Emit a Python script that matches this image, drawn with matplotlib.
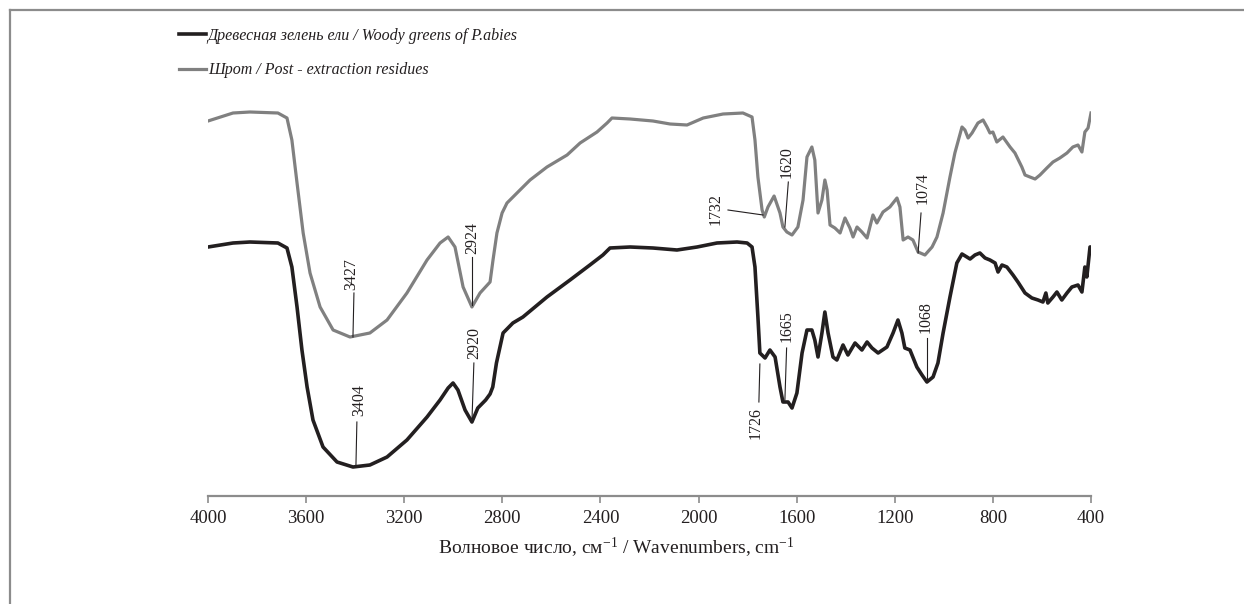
import matplotlib
matplotlib.use("Agg")
import matplotlib.pyplot as plt
from matplotlib.lines import Line2D

plt.rcParams['font.family'] = ['Liberation Serif', 'DejaVu Serif']
plt.rcParams['mathtext.fontset'] = 'custom'
plt.rcParams['mathtext.rm'] = 'Liberation Serif'
plt.rcParams['mathtext.it'] = 'Liberation Serif:italic'

# ---------------- data (wavenumber, arbitrary transmittance units) ----------------
wn_greens = [4000, 3898, 3829, 3715, 3678, 3658, 3637, 3617, 3596, 3572, 3531, 3474, 3409,
             3340, 3270, 3189, 3107, 3054, 3021, 3001, 2981, 2952, 2924, 2900, 2868, 2850,
             2839, 2824, 2797, 2757, 2716, 2618, 2524, 2443, 2390, 2361, 2279, 2186, 2088,
             2006, 1925, 1843, 1802, 1782, 1770, 1758, 1750, 1729, 1709, 1688, 1668, 1656,
             1635, 1619, 1599, 1578, 1558, 1538, 1526, 1513, 1497, 1485, 1472, 1452, 1436,
             1411, 1391, 1362, 1334, 1313, 1293, 1268, 1232, 1207, 1187, 1171, 1159, 1138,
             1110, 1089, 1069, 1044, 1024, 1003, 975, 947, 926, 906, 893, 873, 853, 832, 812,
             791, 779, 763, 743, 718, 698, 669, 641, 616, 596, 584, 576, 555, 539, 519, 498,
             478, 453, 437, 425, 417, 404, 400]
t_greens = [249, 253, 254, 253, 248, 229, 189, 146, 109, 76, 49, 34, 29,
            31, 39, 56, 79, 96, 108, 113, 106, 86, 74, 88, 96, 102,
            109, 133, 163, 173, 179, 199, 216, 231, 241, 248, 249, 248, 246,
            249, 253, 254, 253, 249, 229, 179, 143, 138, 146, 139, 109, 94,
            94, 88, 103, 143, 166, 166, 156, 139, 163, 184, 163, 139, 136,
            151, 141, 153, 146, 154, 148, 143, 149, 163, 176, 163, 148, 146,
            129, 121, 114, 119, 133, 163, 199, 233, 242, 239, 237, 241, 243, 238, 236,
            233, 224, 231, 229, 221, 214, 203, 198, 196, 194, 203, 193, 199, 204, 196, 203,
            209, 211, 204, 229, 219, 249, 249]

wn_residue = [4000, 3898, 3829, 3715, 3678, 3658, 3637, 3612, 3584, 3543, 3490, 3421, 3340,
              3270, 3189, 3107, 3054, 3021, 2993, 2960, 2924, 2891, 2850, 2838, 2822, 2801,
              2781, 2728, 2687, 2618, 2536, 2483, 2414, 2373, 2353, 2279, 2186, 2116, 2047,
              1981, 1900, 1819, 1782, 1770, 1758, 1741, 1732, 1717, 1692, 1668, 1656, 1640,
              1619, 1595, 1574, 1558, 1538, 1526, 1513, 1497, 1485, 1476, 1464, 1444, 1423,
              1403, 1383, 1370, 1354, 1334, 1313, 1289, 1273, 1248, 1220, 1191, 1179, 1166,
              1146, 1126, 1105, 1077, 1048, 1028, 1003, 975, 955, 926, 914, 901, 885, 861,
              840, 824, 812, 800, 784, 759, 730, 710, 682, 669, 649, 628, 608, 580, 555,
              527, 498, 474, 453, 437, 425, 412, 400]
t_residue = [375, 383, 384, 383, 378, 356, 313, 263, 223, 189, 166, 159, 163,
             176, 203, 236, 253, 259, 249, 209, 189, 203, 214, 236, 263, 283,
             293, 306, 316, 329, 341, 353, 364, 373, 378, 377, 375, 372, 371,
             378, 382, 383, 379, 356, 319, 286, 279, 289, 300, 283, 269, 264,
             261, 269, 296, 339, 349, 336, 283, 296, 316, 306, 271, 268, 263,
             278, 268, 259, 269, 264, 258, 281, 273, 284, 289, 298, 289, 256,
             259, 256, 244, 241, 249, 259, 283, 319, 343, 369, 366, 358, 363, 373,
             376, 369, 363, 364, 354, 359, 349, 343, 329, 321, 319, 317, 321, 328, 334,
             338, 343, 349, 351, 344, 364, 368, 383]

# peak labels: (label, line x1, line y1, line x2, line y2, text x, text y, va)
peaks_residue = [("3427", 3405, 203, 3409, 159, 3415, 206, 'bottom'),
                 ("2924", 2925, 239, 2925, 191, 2921, 242, 'bottom'),
                 ("1732", 1880, 286, 1737, 281, 1930, 287, 'center'),
                 ("1620", 1634, 314, 1648, 269, 1641, 318, 'bottom'),
                 ("1074", 1093, 283, 1105, 243, 1085, 292, 'bottom')]
peaks_greens = [("3404", 3393, 74, 3397, 29, 3384, 80, 'bottom'),
                ("2920", 2916, 133, 2924, 74, 2916, 137, 'bottom'),
                ("1665", 1641, 148, 1648, 96, 1641, 154, 'bottom'),
                ("1068", 1069, 158, 1069, 114, 1073, 163, 'bottom'),
                ("1726", 1750, 132, 1754, 94, 1766, 89, 'top')]

xticks = [4000, 3600, 3200, 2800, 2400, 2000, 1600, 1200, 800, 400]
label_greens = "Древесная зелень ели / Woody greens of P.abies"
label_residue = "Шрот / Post - extraction residues"
xlabel = "Волновое число, см$^{-1}$ / Wavenumbers, cm$^{-1}$"

# ---------------- figure ----------------
W, H = 1244, 604
fig = plt.figure(figsize=(W / 100, H / 100), dpi=100)
ax = fig.add_axes([208 / W, (H - 496) / H, (1091 - 208) / W, (496 - 10) / H])

c_black = '#231f20'
c_gray = '#808080'
ax.plot(wn_greens, t_greens, color=c_black, lw=2.6, label=label_greens, solid_joinstyle='round')
ax.plot(wn_residue, t_residue, color=c_gray, lw=2.3, label=label_residue, solid_joinstyle='round')

for lab, x1, y1, x2, y2, tx, ty, va in peaks_residue + peaks_greens:
    ax.plot([x1, x2], [y1, y2], color='#231f20', lw=0.8)
    ax.text(tx, ty, lab, rotation=90, ha='center', va=va, fontsize=11.5, color='#231f20')

ax.set_xlim(4000, 400)
ax.set_ylim(0, 486)
ax.set_xticks(xticks)
ax.set_xticklabels([str(t) for t in xticks], fontsize=13.5)
ax.set_yticks([])
for s in ['top', 'right', 'left']:
    ax.spines[s].set_visible(False)
ax.spines['bottom'].set_color('#8c8c8c')
ax.spines['bottom'].set_linewidth(1.6)
ax.tick_params(axis='x', direction='out', length=5, width=1.2, color='#8c8c8c', pad=5,
               labelcolor='#231f20')
ax.set_xlabel(xlabel, fontsize=14, color='#231f20')
ax.xaxis.set_label_coords((616 - 208) / 883, -(548 - 496) / 486)
ax.xaxis.label.set_va('center')

leg = ax.legend(loc='upper left', bbox_to_anchor=(179 / W, 1 - 28 / H),
                bbox_transform=fig.transFigure, frameon=False, handlelength=1.7,
                handletextpad=0.1, labelspacing=1.15, borderpad=0, borderaxespad=0,
                prop={'family': 'Liberation Serif', 'style': 'italic', 'size': 11.5})
for t in leg.get_texts():
    t.set_color('#231f20')

# outer frame (left and top edges)
fig.add_artist(Line2D([10 / W, 10 / W], [0, 1 - 10 / H], color='#8c8c8c', lw=1.6,
                      transform=fig.transFigure))
fig.add_artist(Line2D([10 / W, 1], [1 - 10 / H, 1 - 10 / H], color='#8c8c8c', lw=1.6,
                      transform=fig.transFigure))

fig.savefig('out.png', dpi=100)
